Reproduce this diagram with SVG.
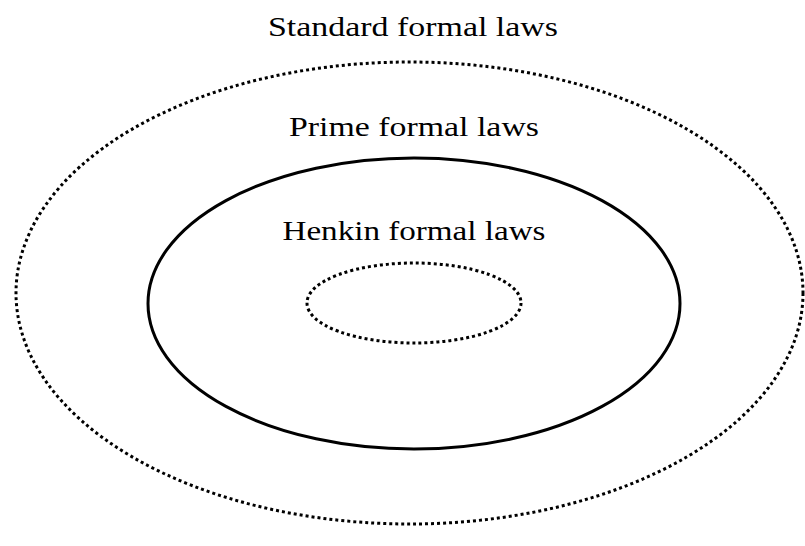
<svg xmlns="http://www.w3.org/2000/svg" width="805" height="546" viewBox="0 0 805 546">
<style>
.t{font-family:"Liberation Serif","Times New Roman",serif;font-size:27px;fill:#000;text-anchor:middle}
.dot{fill:none;stroke:#000;stroke-width:3;stroke-dasharray:3 3}
.solid{fill:none;stroke:#000;stroke-width:3}
</style>
<rect width="805" height="546" fill="#fff"/>
<g id="standard">
<ellipse class="dot" cx="409.5" cy="293" rx="393.5" ry="231"/>
<text class="t" x="413" y="36" textLength="290" lengthAdjust="spacingAndGlyphs">Standard formal laws</text>
</g>
<g id="prime">
<ellipse class="solid" cx="414" cy="303.5" rx="266" ry="145.5"/>
<text class="t" x="414" y="136" textLength="250" lengthAdjust="spacingAndGlyphs">Prime formal laws</text>
</g>
<g id="henkin">
<ellipse class="dot" cx="414" cy="303" rx="107" ry="40"/>
<text class="t" x="414" y="240" textLength="263" lengthAdjust="spacingAndGlyphs">Henkin formal laws</text>
</g>
<g id="connectors"/>
</svg>
